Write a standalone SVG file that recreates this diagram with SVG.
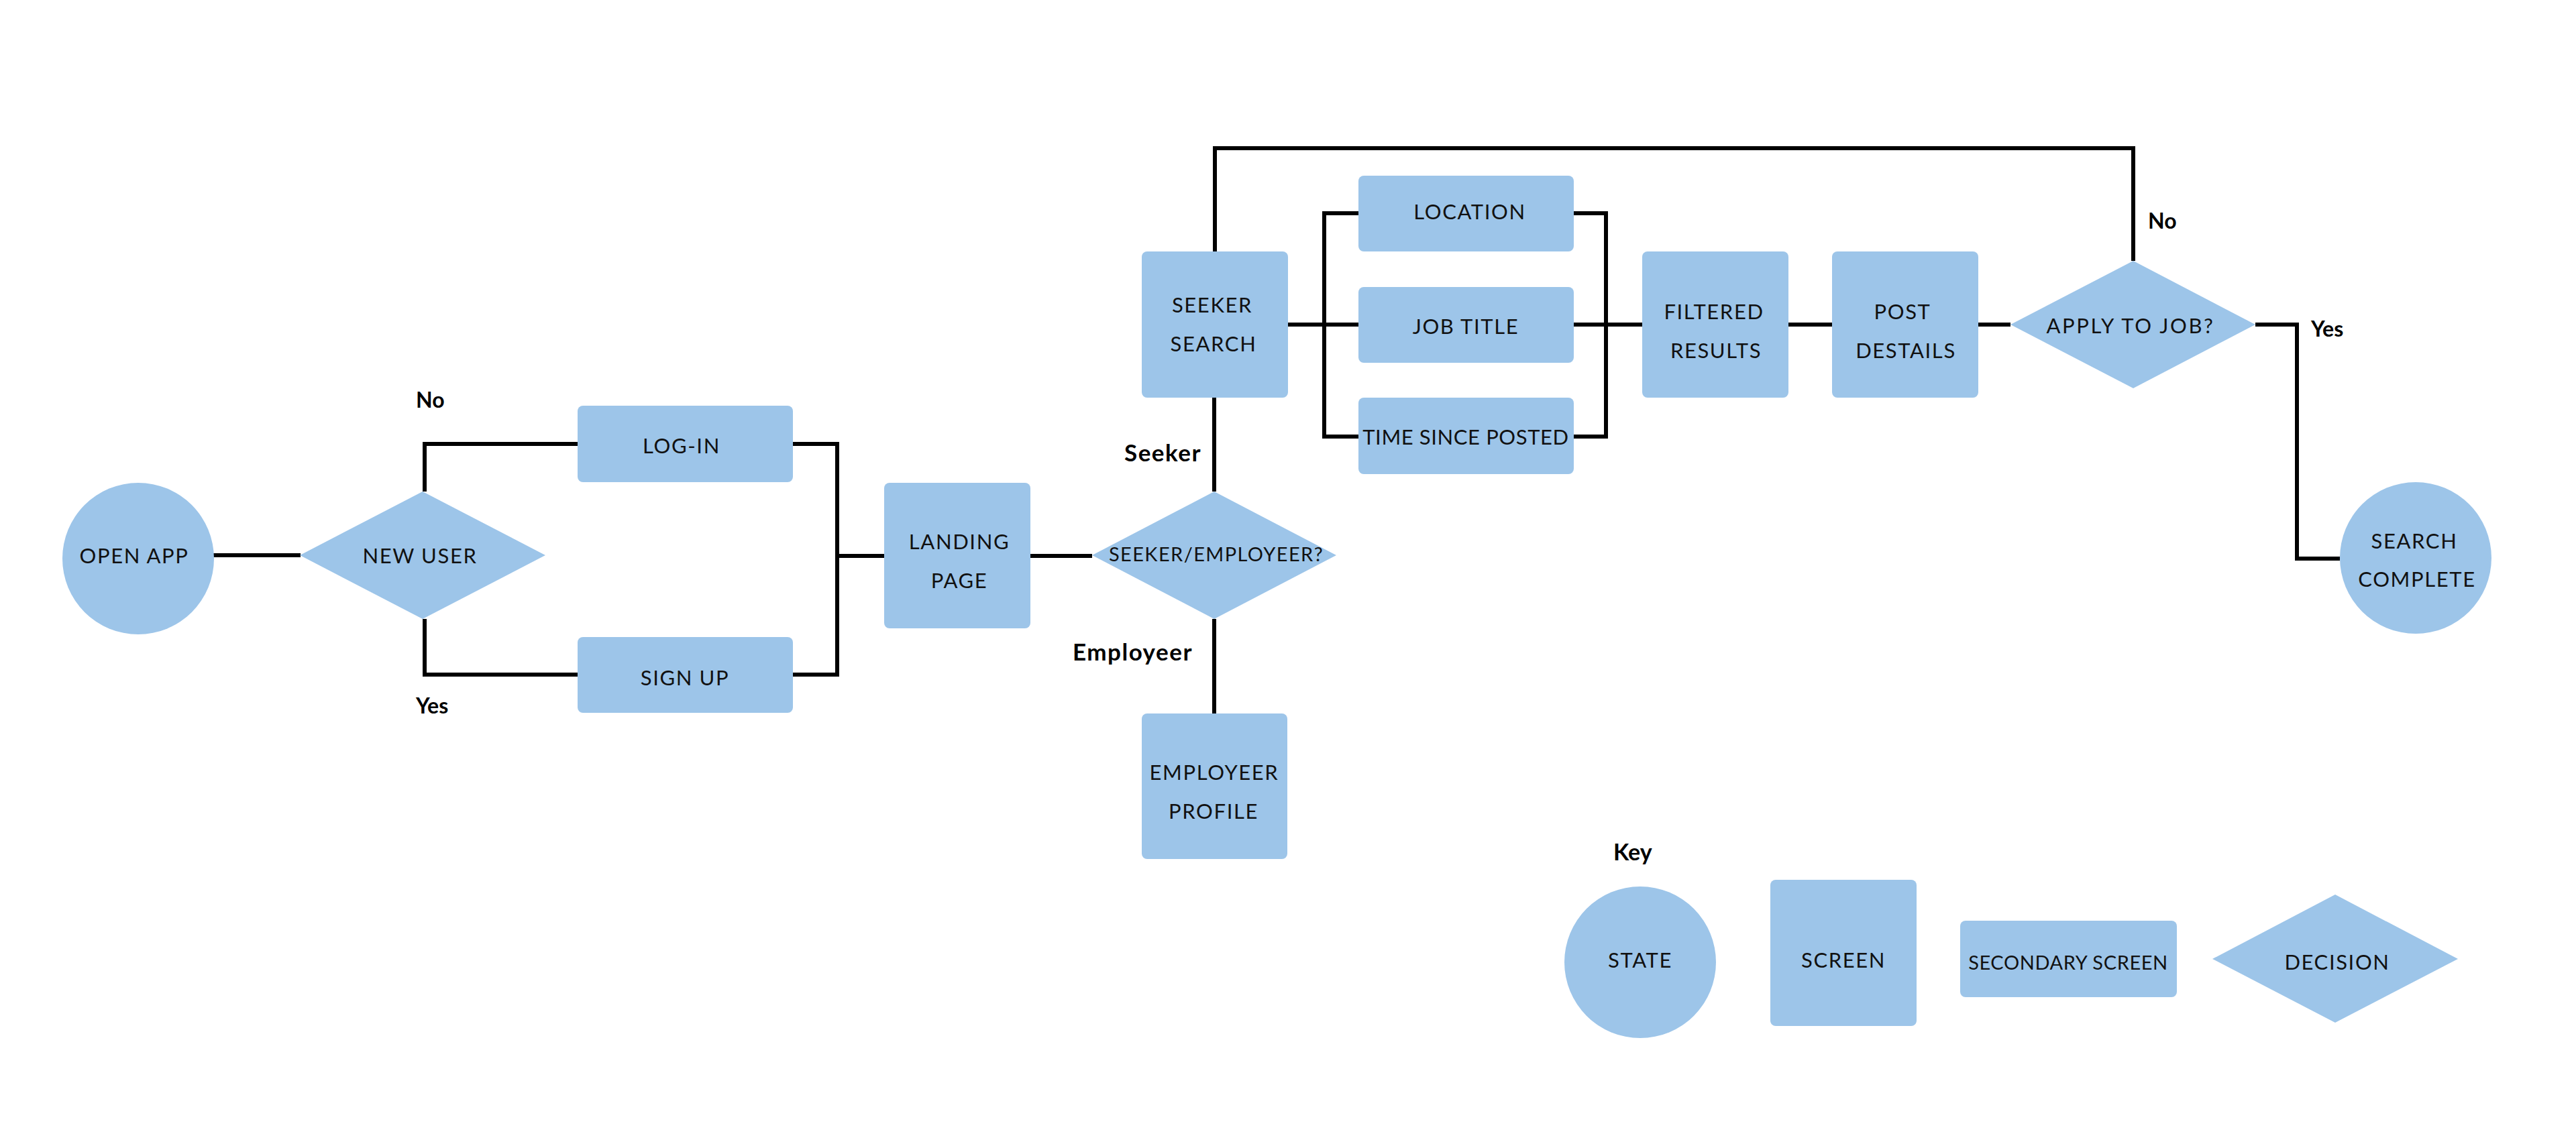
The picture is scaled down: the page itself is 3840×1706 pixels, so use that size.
<svg xmlns="http://www.w3.org/2000/svg" width="3840" height="1706" viewBox="0 0 3840 1706">
<style>
.n{fill:#9dc5e9}
.t{font-family:Lato,"Liberation Sans",sans-serif;font-size:31px;fill:#111;text-anchor:middle;letter-spacing:1.6px}
.s{font-size:29px;letter-spacing:1.4px}
.w{letter-spacing:0.6px}
.l{font-family:Lato,"Liberation Sans",sans-serif;font-size:32px;font-weight:bold;fill:#000}
.b{font-size:35px;letter-spacing:1.5px}
.c{fill:none;stroke:#000;stroke-width:6}
</style>
<rect width="3840" height="1706" fill="#fff"/>
<g id="connectors" class="c">
<path d="M318,828H448"/>
<path d="M633,733V662H861"/>
<path d="M633,923V1006H861"/>
<path d="M1182,662H1248V1006H1182"/>
<path d="M1248,829H1318"/>
<path d="M1536,829H1628"/>
<path d="M1810,733V593"/>
<path d="M1810,923V1064"/>
<path d="M1811,375V221H3180V389"/>
<path d="M1920,484H2025"/>
<path d="M2025,318H1974V651H2025"/>
<path d="M2346,318H2394V651H2346"/>
<path d="M2346,484H2448"/>
<path d="M2666,484H2731"/>
<path d="M2949,484H2997"/>
<path d="M3362,484H3424V833H3488"/>
</g>
<g id="labels">
<text class="l" x="620" y="608">No</text>
<text class="l" x="620" y="1064">Yes</text>
<text class="l b" x="1676" y="688">Seeker</text>
<text class="l b" x="1599" y="985">Employeer</text>
<text class="l" x="3202" y="341">No</text>
<text class="l" x="3445" y="502">Yes</text>
</g>
<g id="open-app"><circle class="n" cx="206" cy="833" r="113"/><text class="t" x="200" y="840">OPEN APP</text></g>
<g id="new-user"><polygon class="n" points="447,828 630,733 813,828 630,923"/><text class="t" x="626" y="840">NEW USER</text></g>
<g id="log-in"><rect class="n" x="861" y="605" width="321" height="114" rx="8"/><text class="t" x="1016" y="676">LOG-IN</text></g>
<g id="sign-up"><rect class="n" x="861" y="950" width="321" height="113" rx="8"/><text class="t" x="1021" y="1022">SIGN UP</text></g>
<g id="landing-page"><rect class="n" x="1318" y="720" width="218" height="217" rx="8"/><text class="t" x="1430" y="819">LANDING</text><text class="t" x="1430" y="877">PAGE</text></g>
<g id="seeker-employeer"><polygon class="n" points="1628,828 1810,733 1992,828 1810,923"/><text class="t s" x="1813" y="837">SEEKER/EMPLOYEER?</text></g>
<g id="employeer-profile"><rect class="n" x="1702" y="1064" width="217" height="217" rx="8"/><text class="t" x="1810" y="1163">EMPLOYEER</text><text class="t" x="1809" y="1221">PROFILE</text></g>
<g id="seeker-search"><rect class="n" x="1702" y="375" width="218" height="218" rx="8"/><text class="t" x="1807" y="466">SEEKER</text><text class="t" x="1809" y="524">SEARCH</text></g>
<g id="location"><rect class="n" x="2025" y="262" width="321" height="113" rx="8"/><text class="t" x="2191" y="327">LOCATION</text></g>
<g id="job-title"><rect class="n" x="2025" y="428" width="321" height="113" rx="8"/><text class="t" x="2185" y="498">JOB TITLE</text></g>
<g id="time-since-posted"><rect class="n" x="2025" y="593" width="321" height="114" rx="8"/><text class="t w" x="2185" y="663">TIME SINCE POSTED</text></g>
<g id="filtered-results"><rect class="n" x="2448" y="375" width="218" height="218" rx="8"/><text class="t" x="2555" y="476">FILTERED</text><text class="t" x="2558" y="534">RESULTS</text></g>
<g id="post-destails"><rect class="n" x="2731" y="375" width="218" height="218" rx="8"/><text class="t" x="2836" y="476">POST</text><text class="t" x="2841" y="534">DESTAILS</text></g>
<g id="apply-to-job"><polygon class="n" points="2997,484 3180,389 3362,484 3180,579"/><text class="t" x="3176" y="497" style="letter-spacing:2.6px">APPLY TO JOB?</text></g>
<g id="search-complete"><circle class="n" cx="3601" cy="832" r="113"/><text class="t" x="3599" y="818">SEARCH</text><text class="t" x="3603" y="875">COMPLETE</text></g>
<g id="key">
<text class="l" x="2405" y="1283" style="font-size:34px">Key</text>
<g id="key-state"><circle class="n" cx="2445" cy="1435" r="113"/><text class="t" x="2445" y="1443">STATE</text></g>
<g id="key-screen"><rect class="n" x="2639" y="1312" width="218" height="218" rx="8"/><text class="t" x="2748" y="1443">SCREEN</text></g>
<g id="key-secondary"><rect class="n" x="2922" y="1373" width="323" height="114" rx="8"/><text class="t s" x="3083" y="1446" style="letter-spacing:0.6px">SECONDARY SCREEN</text></g>
<g id="key-decision"><polygon class="n" points="3298,1430 3481,1334 3664,1430 3481,1525"/><text class="t" x="3484" y="1446">DECISION</text></g>
</g>
</svg>
